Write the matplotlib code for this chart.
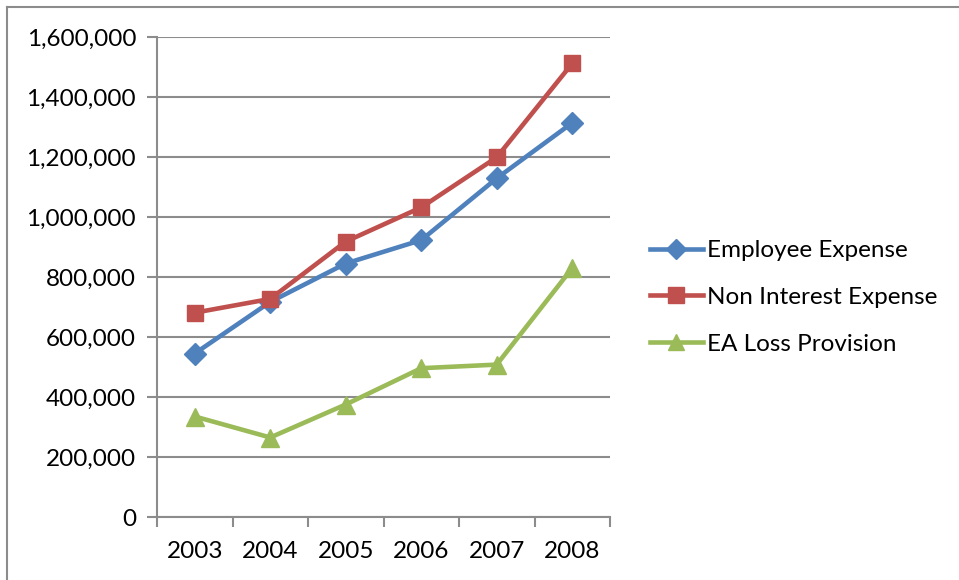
import matplotlib
matplotlib.use("Agg")
import matplotlib.pyplot as plt
from matplotlib.lines import Line2D
from matplotlib.ticker import FuncFormatter, FixedLocator

years = ["2003", "2004", "2005", "2006", "2007", "2008"]
employee_expense = [545000, 717000, 845000, 923000, 1129000, 1314000]
non_interest_expense = [681000, 727000, 918000, 1032000, 1199000, 1512000]
ea_loss_provision = [335000, 265000, 375000, 496000, 508000, 830000]

series = [
    ("Employee Expense", employee_expense, "#4F81BD", "D", 11),
    ("Non Interest Expense", non_interest_expense, "#C0504D", "s", 11.5),
    ("EA Loss Provision", ea_loss_provision, "#9BBB59", "^", 12.5),
]

plt.rcParams["font.family"] = ["Lato", "DejaVu Sans"]
grid_color = "#8C8C8C"
fs = 17.5

fig = plt.figure(figsize=(9.59, 5.80), dpi=100)
ax = fig.add_axes([157 / 959, 1 - 517 / 580, (610 - 157) / 959, (517 - 37) / 580])

x = list(range(len(years)))
for name, vals, color, marker, ms in series:
    ax.plot(x, vals, color=color, lw=3.3, marker=marker, markersize=ms,
            markeredgecolor=color, markerfacecolor=color, label=name,
            solid_joinstyle="miter", zorder=3)

ax.set_xlim(-0.5, len(years) - 0.5)
ax.set_ylim(0, 1600000)
ax.yaxis.set_major_locator(FixedLocator(range(0, 1600001, 200000)))
ax.yaxis.set_major_formatter(FuncFormatter(lambda v, p: f"{int(v):,}"))

ax.xaxis.set_major_locator(FixedLocator([i - 0.5 for i in range(len(years) + 1)]))
ax.xaxis.set_major_formatter(FuncFormatter(lambda v, p: ""))
ax.xaxis.set_minor_locator(FixedLocator(x))
ax.xaxis.set_minor_formatter(FuncFormatter(lambda v, p: years[int(round(v))]))
ax.tick_params(axis="x", which="minor", length=0, labelsize=fs, pad=17)
ax.tick_params(axis="x", which="major", length=7, width=1.5, color=grid_color)
ax.tick_params(axis="y", length=7, width=1.5, color=grid_color, labelsize=fs, pad=8)

ax.grid(axis="y", color=grid_color, lw=1.5, zorder=0)
ax.set_axisbelow(True)
for side in ("top", "right"):
    ax.spines[side].set_visible(False)
for side in ("left", "bottom"):
    ax.spines[side].set_color(grid_color)
    ax.spines[side].set_linewidth(1.5)

handles = [Line2D([0], [0], color=c, lw=3.3, marker=m, markersize=ms * 0.95,
                  markeredgecolor=c, markerfacecolor=c)
           for _, _, c, m, ms in series]
labels = [s[0] for s in series]
fig.legend(handles, labels, loc="upper left", bbox_to_anchor=(650 / 959, 1 - 240 / 580),
           frameon=False, fontsize=fs, handlelength=2.18, handletextpad=0.16,
           labelspacing=1.06, borderaxespad=0, borderpad=0)

# outer chart frame
fig.add_artist(Line2D([7 / 959, 7 / 959], [0, 1 - 7 / 580], transform=fig.transFigure,
                      color=grid_color, lw=1.5))
fig.add_artist(Line2D([7 / 959, 1], [1 - 7 / 580, 1 - 7 / 580], transform=fig.transFigure,
                      color=grid_color, lw=1.5))

fig.savefig("out.png", dpi=100)
